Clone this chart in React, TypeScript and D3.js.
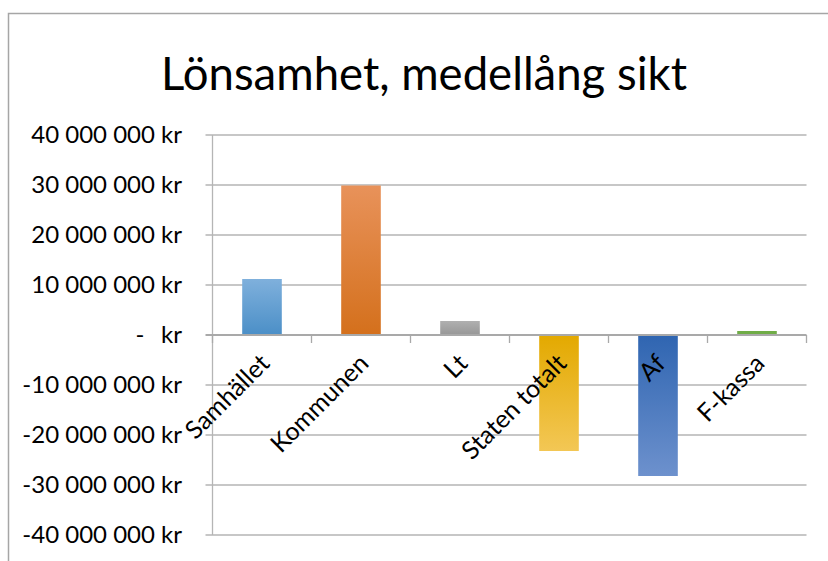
import React, { useEffect, useRef } from 'react';
import * as d3 from 'd3';

const categories = ['Samhället', 'Kommunen', 'Lt', 'Staten totalt', 'Af', 'F-kassa'];
const values = [11200000, 29900000, 2800000, -23200000, -28200000, 800000];
// [far end, axis end] gradient colours per bar
const barColors = [
  ['#7fb0dc', '#4b8fc7'],
  ['#e8925a', '#d4701c'],
  ['#b0b0b0', '#979797'],
  ['#f3c755', '#e3a900'],
  ['#6d91cd', '#2f65b1'],
  ['#70ad47', '#70ad47'],
];
const yTicks = [-40000000, -30000000, -20000000, -10000000, 0, 10000000, 20000000, 30000000, 40000000];
const title = 'Lönsamhet, medellång sikt';

const W = 828;
const H = 561;
const FONT = 'Lato, "Open Sans", sans-serif';

const fmt = (v: number) => {
  const s = d3.format(',')(Math.abs(v)).replace(/,/g, ' ');
  return (v < 0 ? '-' : '') + s + ' kr';
};

const App: React.FC = () => {
  const svgRef = useRef<SVGSVGElement>(null);

  useEffect(() => {
    if (!svgRef.current) return;
    const svg = d3.select(svgRef.current);
    svg.selectAll('*').remove();

    const plot = { left: 212.5, right: 806.5, top: 135, bottom: 535 };

    const x = d3.scaleBand<string>()
      .domain(categories)
      .range([plot.left, plot.right])
      .paddingInner(0.6)
      .paddingOuter(0.3);
    const band = (plot.right - plot.left) / categories.length;

    const y = d3.scaleLinear()
      .domain([-40000000, 40000000])
      .range([plot.bottom, plot.top]);

    const defs = svg.append('defs');
    barColors.forEach((c, i) => {
      const g = defs.append('linearGradient')
        .attr('id', `bar${i}`)
        .attr('x1', 0).attr('y1', 0).attr('x2', 0).attr('y2', 1);
      const pos = values[i] >= 0;
      g.append('stop').attr('offset', '0%').attr('stop-color', pos ? c[0] : c[1]);
      g.append('stop').attr('offset', '100%').attr('stop-color', pos ? c[1] : c[0]);
    });

    // chart border
    svg.append('rect')
      .attr('x', 8.5).attr('y', 13.5)
      .attr('width', W).attr('height', H)
      .attr('fill', 'white')
      .attr('stroke', '#a6a6a6')
      .attr('stroke-width', 1.5);

    svg.append('text')
      .attr('x', 424)
      .attr('y', 90)
      .attr('text-anchor', 'middle')
      .attr('font-family', FONT)
      .attr('font-size', 45.5)
      .attr('fill', '#000')
      .text(title);

    // gridlines
    svg.append('g')
      .selectAll('line')
      .data(yTicks.filter(t => t !== 0))
      .join('line')
      .attr('x1', plot.left - 7).attr('x2', plot.right)
      .attr('y1', d => y(d)).attr('y2', d => y(d))
      .attr('stroke', '#b5b5b5')
      .attr('stroke-width', 1.3);

    // y axis line
    svg.append('line')
      .attr('x1', plot.left).attr('x2', plot.left)
      .attr('y1', plot.top).attr('y2', plot.bottom)
      .attr('stroke', '#b5b5b5')
      .attr('stroke-width', 1.3);

    // y labels
    const yl = svg.append('g')
      .attr('font-family', FONT)
      .attr('font-size', 24)
      .attr('fill', '#000');
    yTicks.forEach(t => {
      if (t === 0) {
        yl.append('text').attr('x', 182).attr('y', y(t)).attr('dy', '0.35em')
          .attr('text-anchor', 'end').text('kr');
        yl.append('text').attr('x', 140).attr('y', y(t)).attr('dy', '0.35em')
          .attr('text-anchor', 'middle').text('-');
      } else {
        yl.append('text').attr('x', 182).attr('y', y(t)).attr('dy', '0.35em')
          .attr('text-anchor', 'end').text(fmt(t));
      }
    });

    // bars
    svg.append('g')
      .selectAll('rect')
      .data(values)
      .join('rect')
      .attr('x', (d, i) => x(categories[i])!)
      .attr('width', x.bandwidth())
      .attr('y', d => Math.min(y(d), y(0)))
      .attr('height', d => Math.abs(y(d) - y(0)))
      .attr('fill', (d, i) => `url(#bar${i})`);

    // zero axis + category ticks
    svg.append('line')
      .attr('x1', plot.left - 7).attr('x2', plot.right)
      .attr('y1', y(0)).attr('y2', y(0))
      .attr('stroke', '#a9a9a9')
      .attr('stroke-width', 2);
    svg.append('g')
      .selectAll('line')
      .data(d3.range(categories.length + 1))
      .join('line')
      .attr('x1', i => plot.left + i * band).attr('x2', i => plot.left + i * band)
      .attr('y1', y(0)).attr('y2', y(0) + 8)
      .attr('stroke', '#a9a9a9')
      .attr('stroke-width', 1.3);

    // category labels
    svg.append('g')
      .attr('font-family', FONT)
      .attr('font-size', 25)
      .attr('fill', '#000')
      .selectAll('text')
      .data(categories)
      .join('text')
      .attr('text-anchor', 'end')
      .attr('transform', d => {
        const cx = x(d)! + x.bandwidth() / 2 + 9;
        return `translate(${cx},365) rotate(-45)`;
      })
      .text(d => d);
  }, []);

  return (
    <svg
      ref={svgRef}
      width={W}
      height={H}
      style={{ position: 'fixed', left: 0, top: 0, display: 'block', background: '#fff' }}
    />
  );
};

export default App;
